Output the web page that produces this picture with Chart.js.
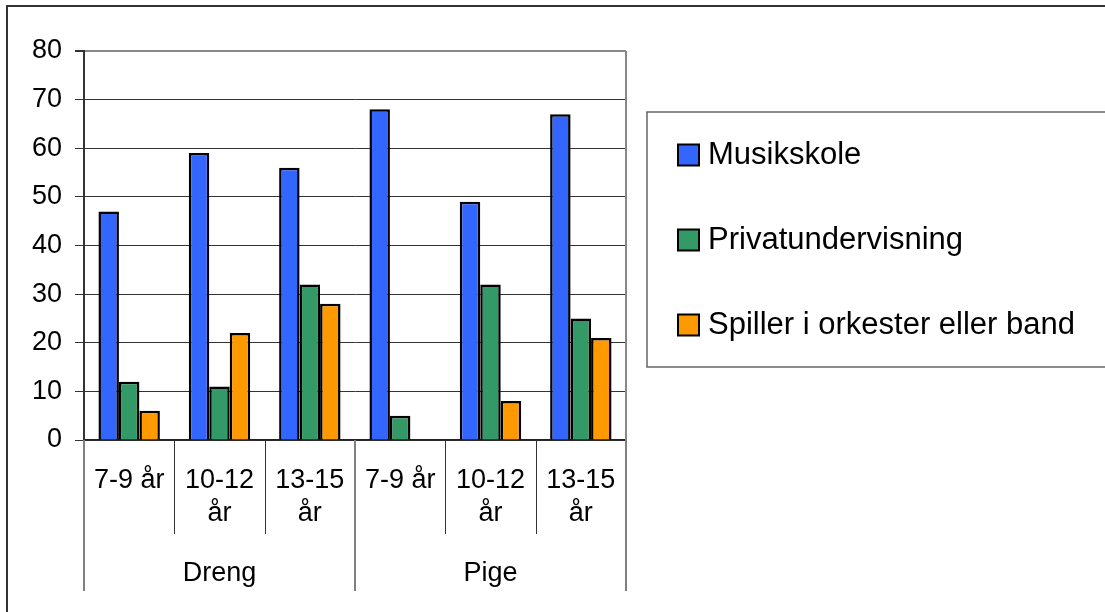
<!DOCTYPE html>
<html>
<head>
<meta charset="utf-8">
<script src="https://cdn.jsdelivr.net/npm/chart.js@4.4.0/dist/chart.umd.min.js"></script>
<style>
body { margin: 0; background: #fff; }
canvas { display: block; }
</style>
</head>
<body>
<canvas id="barChart" width="1105" height="612"></canvas>
<script>
// data
var ageLabels = [['7-9 år'], ['10-12', 'år'], ['13-15', 'år'], ['7-9 år'], ['10-12', 'år'], ['13-15', 'år']];
var groupLabels = ['Dreng', 'Pige'];
var groupSize = 3;
var musikskole = [47, 59, 56, 68, 49, 67];
var privat = [12, 11, 32, 5, 32, 25];
var orkester = [6, 22, 28, 0, 8, 21];
var seriesNames = ['Musikskole', 'Privatundervisning', 'Spiller i orkester eller band'];
var seriesColors = ['#3366ff', '#339966', '#ff9900'];
var yMin = 0, yMax = 80, yStep = 10;

Chart.defaults.font.family = '"Liberation Sans", Arial, sans-serif';
Chart.defaults.color = '#000';

// separators, group labels, frame and legend box
var extras = {
    id: 'extras',
    beforeDraw: function (chart) {
        var ctx = chart.ctx;
        ctx.save();
        ctx.fillStyle = '#fff';
        ctx.fillRect(0, 0, chart.width, chart.height);
        ctx.restore();
    },
    afterDraw: function (chart) {
        var ctx = chart.ctx;
        var xs = chart.scales.x;
        var area = chart.chartArea;
        ctx.save();

        // outer frame (left + top)
        ctx.strokeStyle = '#333';
        ctx.lineWidth = 2;
        ctx.beginPath();
        ctx.moveTo(7, chart.height);
        ctx.lineTo(7, 6);
        ctx.lineTo(chart.width, 6);
        ctx.stroke();

        // plot area right edge
        ctx.strokeStyle = '#888';
        ctx.lineWidth = 2;
        ctx.beginPath();
        ctx.moveTo(area.right, area.top);
        ctx.lineTo(area.right, area.bottom);
        ctx.stroke();

        // category separators
        var n = chart.data.labels.length;
        var step = xs.getPixelForValue(1) - xs.getPixelForValue(0);
        for (var i = 0; i <= n; i++) {
            var px;
            if (i === 0) px = xs.getPixelForValue(0) - step / 2;
            else if (i === n) px = xs.getPixelForValue(n - 1) + step / 2;
            else px = (xs.getPixelForValue(i - 1) + xs.getPixelForValue(i)) / 2;
            var outer = i % groupSize === 0;
            ctx.strokeStyle = outer ? '#808080' : '#333';
            ctx.lineWidth = outer ? 2 : 1;
            var x0 = outer ? px : Math.round(px) + 0.5;
            ctx.beginPath();
            ctx.moveTo(x0, area.bottom);
            ctx.lineTo(x0, area.bottom + (outer ? 151 : 94));
            ctx.stroke();
        }

        // group labels
        ctx.fillStyle = '#000';
        ctx.font = '27px "Liberation Sans", Arial, sans-serif';
        ctx.textAlign = 'center';
        ctx.textBaseline = 'middle';
        for (var g = 0; g < groupLabels.length; g++) {
            var a = xs.getPixelForValue(g * groupSize);
            var b = xs.getPixelForValue(g * groupSize + groupSize - 1);
            ctx.fillText(groupLabels[g], (a + b) / 2, area.bottom + 134);
        }

        // legend box
        ctx.strokeStyle = '#666';
        ctx.lineWidth = 1.5;
        ctx.strokeRect(647, 112, 470, 255);
        ctx.font = '31px "Liberation Sans", Arial, sans-serif';
        ctx.textAlign = 'left';
        chart.data.datasets.forEach(function (ds, k) {
            var cy = 155 + k * 85;
            ctx.fillStyle = ds.backgroundColor;
            ctx.fillRect(678, cy - 10.5, 21, 21);
            ctx.strokeStyle = '#000';
            ctx.lineWidth = 2;
            ctx.strokeRect(678, cy - 10.5, 21, 21);
            ctx.fillStyle = '#000';
            ctx.fillText(ds.label, 708, cy);
        });

        ctx.restore();
    }
};

var ctxBar = document.getElementById('barChart').getContext('2d');
var barChart = new Chart(ctxBar, {
    type: 'bar',
    data: {
        labels: ageLabels,
        datasets: [
            { label: seriesNames[0], data: musikskole, backgroundColor: seriesColors[0] },
            { label: seriesNames[1], data: privat, backgroundColor: seriesColors[1] },
            { label: seriesNames[2], data: orkester, backgroundColor: seriesColors[2] }
        ]
    },
    options: {
        responsive: false,
        animation: false,
        layout: { padding: { top: 51, left: 0, right: 479, bottom: 0 } },
        datasets: {
            bar: {
                borderColor: '#000',
                borderWidth: 2.5,
                categoryPercentage: 0.68,
                barPercentage: 1
            }
        },
        plugins: {
            legend: { display: false },
            tooltip: { enabled: false }
        },
        scales: {
            x: {
                grid: { display: false, drawTicks: false },
                border: { display: true, color: '#222', width: 1.5 },
                ticks: {
                    font: { size: 27, lineHeight: 1.22 },
                    padding: 24,
                    maxRotation: 0,
                    autoSkip: false
                },
                afterFit: function (scale) { scale.height = 172; }
            },
            y: {
                min: yMin,
                max: yMax,
                ticks: { stepSize: yStep, font: { size: 27 }, padding: 13 },
                grid: {
                    color: function (c) { return c.tick && c.tick.value === yMax ? '#888' : '#333'; },
                    lineWidth: function (c) { return c.tick && c.tick.value === yMax ? 2 : 1; },
                    tickColor: '#333',
                    tickLength: 9
                },
                border: { display: true, color: '#333', width: 2 },
                afterFit: function (scale) { scale.width = 84; }
            }
        }
    },
    plugins: [extras]
});
</script>
</body>
</html>
